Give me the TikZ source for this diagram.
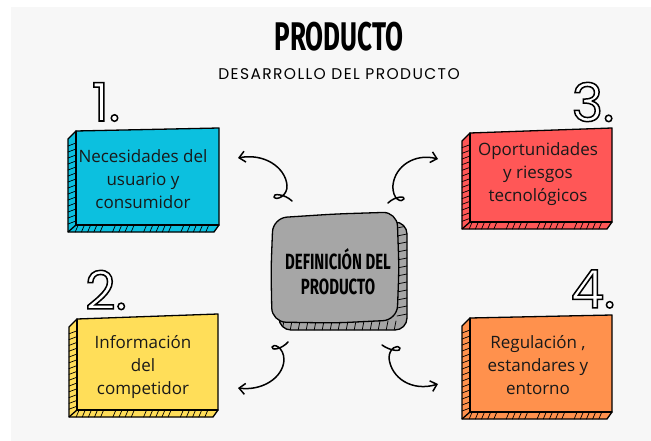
\documentclass[tikz,border=0pt]{standalone}
\usepackage{fontspec}
\setmainfont{Open Sans}
\newfontfamily\titlefont{Fira Sans}
\newfontfamily\subfont[LetterSpace=9]{Poppins}
\newfontfamily\numfont{Poppins}
\usetikzlibrary{arrows.meta}
\definecolor{bgc}{HTML}{F7F7F7}
\definecolor{cyanbox}{HTML}{0CC0DF}
\definecolor{redbox}{HTML}{FF5757}
\definecolor{yellowbox}{HTML}{FFDE59}
\definecolor{orangebox}{HTML}{FF914D}
\definecolor{graybox}{HTML}{A6A6A6}
\newcommand\outlinetext[1]{{\color{white}\special{pdf:literal 2 Tr 1.5 w 0 G}#1\special{pdf:literal 0 Tr}}}
\tikzset{
  outl/.style={line width=1.3pt, line join=round, line cap=round},
  hatch/.style={line width=0.7pt, line cap=round},
  boxtext/.style={font=\fontsize{17}{23}\selectfont, align=center, text=black!90},
  numtext/.style={font=\numfont\fontsize{53}{53}\selectfont},
  curly/.style={line width=1.5pt, line cap=round, line join=round,
    -{Straight Barb[length=6pt,width=11pt,line width=1.5pt]}}
}
% #1 colour, #2 x left, #3 y top-left, #4 x right, #5 y top-right, #6 y bottom
\newcommand\sketchbox[6]{%
  \fill[#1] (#2,#3) -- (#4,#5) -- (#4,#6) -- ({#4-5},{#6+7}) -- ({#2-8},{#6+7}) -- ({#2-8},{#3+8}) -- cycle;
  \foreach \k in {1,...,14} {%
    \draw[hatch] ({#2-8},{#3+9+\k*(#6-#3-4)/15}) -- (#2,{#3+6+\k*(#6-#3-4)/15});
  }
  \foreach \k in {1,2,3,4,5,7,8,9,10,12,13,14,15,16,18,19,20,21,22} {%
    \draw[hatch] ({#2-4+\k*(#4-#2)/23},{#6}) -- ({#2-7+\k*(#4-#2)/23},{#6+7});
  }
  \draw[outl] (#2,#3) -- (#4,#5) -- (#4,#6) -- ({#4-5},{#6+7}) -- ({#2-8},{#6+7}) -- ({#2-8},{#3+8}) -- cycle;
  \draw[outl] (#2,#3) -- (#2,#6) -- (#4,#6);
  \draw[outl] (#2,#6) -- ({#2-8},{#6+7});
}
\begin{document}
\begin{tikzpicture}[x=1pt,y=-1pt]
\useasboundingbox (0,0) rectangle (651,441);
\fill[white] (0,0) rectangle (651,441);
\fill[bgc] (11,7) rectangle (651,441);

% titles
\node (title) at (339,37) {\titlefont\bfseries\fontsize{40}{40}\selectfont\scalebox{0.65}[1]{PRODUCTO}};
\node (subtitle) at (339,74) {\subfont\fontsize{15.5}{15.5}\selectfont DESARROLLO DEL PRODUCTO};

% boxes
\sketchbox{cyanbox}{76}{131}{219}{128}{225}
\sketchbox{redbox}{470}{133}{612}{128}{222}
\sketchbox{yellowbox}{77}{319}{218}{314}{410}
\sketchbox{orangebox}{470}{318}{612}{315}{412}

\node[boxtext] (b1) at (143,179) {Necesidades del\\usuario y\\consumidor};
\node[boxtext] (b3) at (538,174) {Oportunidades\\y riesgos\\tecnológicos};
\node[boxtext] (b2) at (143,367) {Información\\del\\competidor};
\node[boxtext] (b4) at (538,365) {Regulación ,\\estandares y\\entorno};

% numbers
\node[numtext] (n1) at (106,102) {\outlinetext{1.}};
\node[numtext] (n2) at (106,290) {\outlinetext{2.}};
\node[numtext] (n3) at (593,102) {\outlinetext{3.}};
\node[numtext] (n4) at (593,289) {\outlinetext{4.}};

% centre box
\fill[graybox, rounded corners=12pt] (279,222) rectangle (407,330);
\begin{scope}
  \clip[rounded corners=12pt] (279,222) rectangle (407,330);
  \foreach \yy in {228,236,...,320} {\draw[hatch] (397,\yy) -- (407,{\yy-2});}
  \foreach \xx in {284,292,...,400} {\draw[hatch] (\xx,321) -- ({\xx-2},331);}
\end{scope}
\draw[outl, rounded corners=12pt] (279,222) rectangle (407,330);
\fill[graybox, rounded corners=14pt] (273,218) -- (335,214) -- (397,212) -- (399,268) -- (397,320) -- (335,323) -- (272,322) -- (271,270) -- cycle;
\draw[outl, rounded corners=14pt] (273,218) -- (335,214) -- (397,212) -- (399,268) -- (397,320) -- (335,323) -- (272,322) -- (271,270) -- cycle;
\node (centre) at (338,275) {\titlefont\bfseries\fontsize{22}{25}\selectfont\scalebox{0.68}[1]{\begin{tabular}{@{}c@{}}DEFINICIÓN DEL\\PRODUCTO\end{tabular}}};

% curly arrows
\coordinate (a1s) at (292,201); \coordinate (a1e) at (238,158);
\coordinate (a3s) at (388,203); \coordinate (a3e) at (438,159);
\coordinate (a2s) at (288,342); \coordinate (a2e) at (238,388);
\coordinate (a4s) at (382,345); \coordinate (a4e) at (438,384);
\draw[curly] (a1s) .. controls (285,194) and (272,193) .. (274,197) .. controls (276,201) and (288,196) .. (287,185) .. controls (285,167) and (264,153) .. (a1e);
\draw[curly] (a3s) .. controls (395,196) and (406,196) .. (404,199) .. controls (402,203) and (392,200) .. (393,185) .. controls (395,166) and (415,153) .. (a3e);
\draw[curly] (a2s) .. controls (282,349) and (271,351) .. (272,347) .. controls (273,343) and (284,347) .. (284,360) .. controls (283,378) and (262,391) .. (a2e);
\draw[curly] (a4s) .. controls (390,351) and (402,352) .. (400,348) .. controls (398,344) and (389,348) .. (389,358) .. controls (391,378) and (412,392) .. (a4e);
\end{tikzpicture}
\end{document}
